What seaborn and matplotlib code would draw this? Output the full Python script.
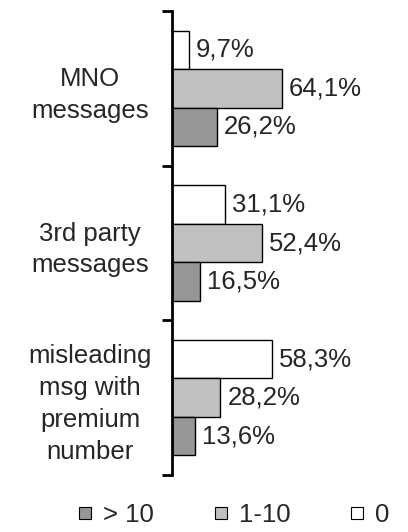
import matplotlib
matplotlib.use("Agg")
import matplotlib.pyplot as plt
from matplotlib.lines import Line2D
import seaborn as sns
import pandas as pd

categories = ["MNO\nmessages", "3rd party\nmessages", "misleading\nmsg with\npremium\nnumber"]
groups = ["0", "1-10", "> 10"]
vals_0 = [9.7, 31.1, 58.3]
vals_1_10 = [64.1, 52.4, 28.2]
vals_gt10 = [26.2, 16.5, 13.6]
colors = {"0": "#FFFFFF", "1-10": "#C0C0C0", "> 10": "#969696"}

rows = []
for g, vals in zip(groups, [vals_0, vals_1_10, vals_gt10]):
    for c, v in zip(categories, vals):
        rows.append({"cat": c, "grp": g, "val": v})
df = pd.DataFrame(rows)

sns.set_style("white")
plt.rcParams["font.family"] = ["Liberation Sans", "DejaVu Sans"]
fs = 18.5

fig = plt.figure(figsize=(4.08, 5.32), dpi=100)
ax = fig.add_axes([172 / 408, 1 - 475 / 532, 225 / 408, 464 / 532])

sns.barplot(data=df, y="cat", x="val", hue="grp", hue_order=groups,
            order=categories, orient="h", palette=colors, width=0.745,
            edgecolor="black", linewidth=1, legend=False, ax=ax)

for cont, g in zip(ax.containers, groups):
    labels = [f"{v:.1f}%".replace(".", ",") for v in cont.datavalues]
    ax.bar_label(cont, labels=labels, padding=5, fontsize=fs)

ax.set_xlim(0, 131)
ax.set_ylim(2.5, -0.5)
ax.set_xlabel("")
ax.set_ylabel("")
ax.set_xticks([])
for s in ["top", "right", "bottom"]:
    ax.spines[s].set_visible(False)
ax.spines["left"].set_linewidth(2)
ax.spines["left"].set_color("black")

ax.set_yticks([0, 1, 2])
ax.set_yticklabels(categories, fontsize=fs, ha="center", linespacing=1.42)
ax.tick_params(axis="y", which="major", length=0, pad=59)
ax.set_yticks([-0.5, 0.5, 1.5, 2.5], minor=True)
ax.tick_params(axis="y", which="minor", length=7, width=2, color="black", left=True)

handles = [Line2D([], [], marker="s", linestyle="none", markersize=8,
                  markerfacecolor=colors[g], markeredgecolor="black", markeredgewidth=0.8)
           for g in ["> 10", "1-10", "0"]]
fig.legend(handles, ["> 10", "1-10", "0"], loc="center", bbox_to_anchor=(232 / 408, 1 - 515 / 532),
           ncol=3, frameon=False, fontsize=fs, handletextpad=0.3, columnspacing=2.2,
           handlelength=0.8)

fig.savefig("out.png", dpi=100)
